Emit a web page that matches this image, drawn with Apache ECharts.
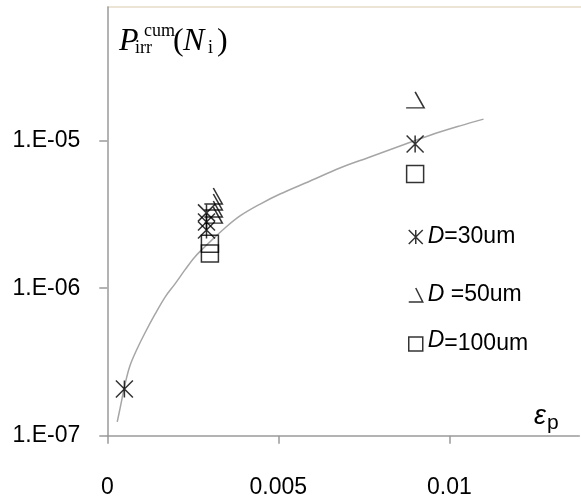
<!DOCTYPE html>
<html><head><meta charset="utf-8">
<script src="https://cdn.jsdelivr.net/npm/echarts@6/dist/echarts.min.js"></script>
<style>html,body{margin:0;padding:0;background:#fff}#c{width:581px;height:501px}</style>
</head><body><div id="c"></div>
<script>
// ---- data ----
const seriesNames = ['D=30um', 'D=50um', 'D=100um'];
const d30X = [0.0005, 0.0029, 0.0029, 0.0029, 0.009];
const d30Y = [2.07e-7, 3.24e-6, 2.81e-6, 2.48e-6, 9.5e-6];
const d50X = [0.0031, 0.0031, 0.0031, 0.0031, 0.009];
const d50Y = [4.22e-6, 3.84e-6, 3.44e-6, 3.13e-6, 1.89e-5];
const d100X = [0.003, 0.003, 0.009];
const d100Y = [2.0e-6, 1.72e-6, 5.94e-6];
const fitX = [0.00029, 0.00037, 0.00052, 0.00066, 0.00087, 0.0011, 0.0014, 0.00169, 0.00198, 0.00227, 0.00256, 0.0030,
              0.00344, 0.00388, 0.00447, 0.00505, 0.00593, 0.0068, 0.00768, 0.00856, 0.00944, 0.01031, 0.0110];
const fitY = [1.24e-7, 1.52e-7, 2.24e-7, 2.97e-7, 3.87e-7, 4.97e-7, 6.69e-7, 8.71e-7, 1.07e-6, 1.33e-6, 1.63e-6, 2.06e-6,
              2.56e-6, 3.09e-6, 3.72e-6, 4.35e-6, 5.33e-6, 6.53e-6, 7.75e-6, 9.21e-6, 1.09e-5, 1.26e-5, 1.40e-5];
const xTickValues = [0, 0.005, 0.01];
const xTickLabels = ['0', '0.005', '0.01'];
const yTickValues = [1e-7, 1e-6, 1e-5];
const yTickLabels = ['1.E-07', '1.E-06', '1.E-05'];

const zip = (a, b) => a.map((v, i) => [v, b[i]]);

const ICON_AST = 'path://M0,0L10,10M10,0L0,10M5,0L5,10';
const ICON_TRI = 'path://M5,0L10,10L0,10';
const ICON_SQ = 'path://M0,0L10,0L10,10L0,10Z';
const markStyle = { color: 'rgba(0,0,0,0)', borderColor: '#000', borderWidth: 1.5 };

const sans = "'Liberation Sans', Arial, sans-serif";
const serif = "'Liberation Serif', 'Times New Roman', serif";

function yLabel(v) {
  for (let i = 0; i < yTickValues.length; i++) {
    if (Math.abs(Math.log10(v) - Math.log10(yTickValues[i])) < 1e-6) return yTickLabels[i];
  }
  return '';
}
function xLabel(v) {
  for (let i = 0; i < xTickValues.length; i++) {
    if (Math.abs(v - xTickValues[i]) < 1e-9) return xTickLabels[i];
  }
  return '';
}

const FS = 23;
const legendRich = {
  d: { fontFamily: sans, fontSize: FS, fontStyle: 'italic', color: '#000' },
  t: { fontFamily: sans, fontSize: FS, color: '#000' },
  d3: { fontFamily: sans, fontSize: FS, fontStyle: 'italic', color: '#000', verticalAlign: 'top', lineHeight: 23 },
  t3: { fontFamily: sans, fontSize: FS, color: '#000', lineHeight: 30 }
};
function mkLegend(name, icon, top, fmt) {
  return {
    data: [{ name: name, icon: icon }],
    left: 408, top: top, orient: 'vertical', padding: 0,
    itemWidth: 14, itemHeight: 14, itemGap: 0,
    selectedMode: false,
    itemStyle: markStyle,
    formatter: fmt,
    textStyle: { rich: legendRich, fontSize: FS, padding: 0 }
  };
}

const chart = echarts.init(document.getElementById('c'), null, { renderer: 'canvas' });
chart.setOption({
  animation: false,
  backgroundColor: '#fff',
  grid: { left: 107.3, top: 7, height: 428.7, width: 472, containLabel: false },
  xAxis: {
    type: 'value', min: 0, max: 0.0138, interval: 0.005,
    axisLine: { show: true, lineStyle: { color: '#9a9a9a', width: 1.5 } },
    axisTick: { show: true, inside: false, length: 8, customValues: xTickValues, lineStyle: { color: '#9a9a9a', width: 1.5 } },
    axisLabel: { formatter: xLabel, customValues: xTickValues, margin: 40, fontSize: FS, fontFamily: sans, color: '#000' },
    splitLine: { show: false }
  },
  yAxis: {
    type: 'log', logBase: 10, min: 1e-7, max: 8.06e-5,
    axisLine: { show: true, lineStyle: { color: '#9a9a9a', width: 1.5 } },
    axisTick: { show: true, inside: false, length: 8, customValues: yTickValues, lineStyle: { color: '#9a9a9a', width: 1.5 } },
    axisLabel: { formatter: yLabel, customValues: yTickValues, margin: 27, fontSize: FS, fontFamily: sans, color: '#000' },
    splitLine: { show: false }, minorTick: { show: false }
  },
  legend: [
    mkLegend(seriesNames[0], ICON_AST, 225.5, () => '{d|D}{t|=30um}'),
    mkLegend(seriesNames[1], ICON_TRI, 283.5, () => '{d|D}{t| =50um}'),
    mkLegend(seriesNames[2], ICON_SQ, 329, () => '{d3|D}{t3|=100um}')
  ],
  graphic: [
    { type: 'line', shape: { x1: 107.3, y1: 7, x2: 581, y2: 7 }, style: { stroke: '#e6dcc8', lineWidth: 1.5 }, silent: true },
    { type: 'text', x: 119, y: 58, style: { text: 'P', font: 'italic 32px ' + serif, fill: '#000', align: 'left', verticalAlign: 'bottom' } },
    { type: 'text', x: 144, y: 40, style: { text: 'cum', font: '18px ' + serif, fill: '#000', align: 'left', verticalAlign: 'bottom' } },
    { type: 'text', x: 135, y: 57, style: { text: 'irr', font: '18px ' + serif, fill: '#000', align: 'left', verticalAlign: 'bottom' } },
    { type: 'text', x: 173, y: 58, style: { text: '(', font: '32px ' + serif, fill: '#000', align: 'left', verticalAlign: 'bottom' } },
    { type: 'text', x: 183, y: 58, style: { text: 'N', font: 'italic 32px ' + serif, fill: '#000', align: 'left', verticalAlign: 'bottom' } },
    { type: 'text', x: 208, y: 57, style: { text: 'i', font: '18px ' + serif, fill: '#000', align: 'left', verticalAlign: 'bottom' } },
    { type: 'text', x: 217, y: 58, style: { text: ')', font: '32px ' + serif, fill: '#000', align: 'left', verticalAlign: 'bottom' } },
    { type: 'text', x: 534, y: 430, style: { text: 'ε', font: 'italic 27px ' + sans, fill: '#000', align: 'left', verticalAlign: 'bottom' } },
    { type: 'text', x: 547, y: 434, style: { text: 'p', font: '21px ' + sans, fill: '#000', align: 'left', verticalAlign: 'bottom' } }
  ],
  series: [
    { name: 'fit', type: 'line', data: zip(fitX, fitY), smooth: 0.35, showSymbol: false, symbol: 'none',
      lineStyle: { color: '#a6a6a6', width: 1.5 }, z: 1, silent: true },
    { name: seriesNames[0], type: 'scatter', data: zip(d30X, d30Y), symbol: ICON_AST, symbolSize: 17, itemStyle: markStyle, z: 3 },
    { name: seriesNames[1], type: 'scatter', data: zip(d50X, d50Y), symbol: ICON_TRI, symbolSize: [18, 16], itemStyle: markStyle, z: 3 },
    { name: seriesNames[2], type: 'scatter', data: zip(d100X, d100Y), symbol: ICON_SQ, symbolSize: 17, itemStyle: markStyle, z: 3 }
  ]
});
</script></body></html>
